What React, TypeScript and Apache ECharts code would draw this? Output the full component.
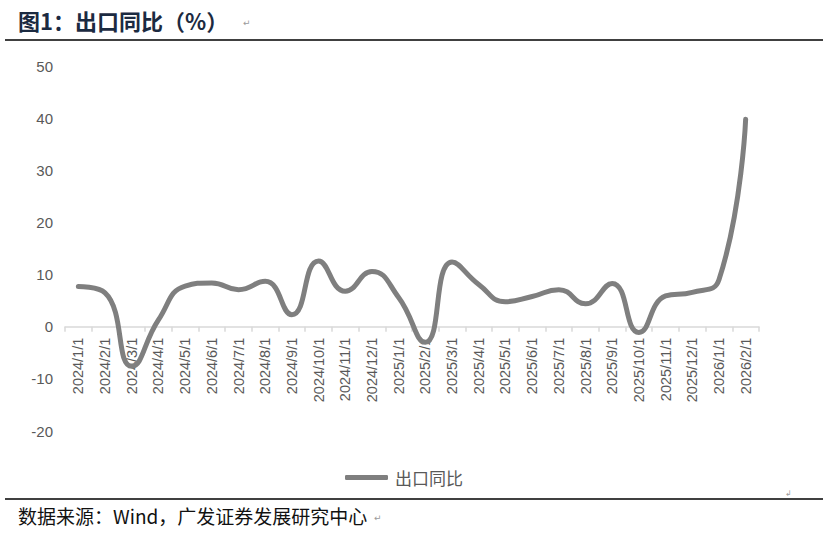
import { useEffect, useRef } from 'react'
import * as echarts from 'echarts'

// 月份（横轴类目）
const months = [
  '2024/1/1', '2024/2/1', '2024/3/1', '2024/4/1', '2024/5/1', '2024/6/1',
  '2024/7/1', '2024/8/1', '2024/9/1', '2024/10/1', '2024/11/1', '2024/12/1',
  '2025/1/1', '2025/2/1', '2025/3/1', '2025/4/1', '2025/5/1', '2025/6/1',
  '2025/7/1', '2025/8/1', '2025/9/1', '2025/10/1', '2025/11/1', '2025/12/1',
  '2026/1/1', '2026/2/1'
]

// 出口同比（%）
const exportYoY = [
  7.7, 6.5, -7.6, 1.3, 7.8, 8.4, 7.1, 8.7, 2.3, 12.6, 6.8, 10.6,
  5.6, -3.0, 12.4, 8.1, 4.8, 5.8, 7.1, 4.4, 8.3, -1.1, 5.9, 6.6,
  9.0, 39.8
]

const seriesName = '出口同比'
const chartTitle = '图1：出口同比（%）'
const sourceText = '数据来源：Wind，广发证券发展研究中心'

const yMin = -20
const yMax = 50
const yStep = 10

const GRID_TOP = 66
const GRID_BOTTOM = 102
const CHART_H = 533

const LINE_COLOR = '#7f7f7f'
const LABEL_COLOR = '#595959'
const AXIS_COLOR = '#d9d9d9'

export default function App() {
  const chartRef = useRef<HTMLDivElement>(null)

  useEffect(() => {
    if (!chartRef.current) return
    const chart = echarts.init(chartRef.current, undefined, { renderer: 'svg' })

    // 横轴放在 0 值处：从绘图区底部往上平移
    const plotH = CHART_H - GRID_TOP - GRID_BOTTOM
    const zeroOffset = -(plotH * (0 - yMin)) / (yMax - yMin)

    chart.setOption({
      animation: false,
      backgroundColor: '#fff',
      grid: { left: 65, right: 64, top: GRID_TOP, bottom: GRID_BOTTOM, containLabel: false },
      legend: {
        left: 340,
        top: 464,
        icon: 'roundRect',
        itemWidth: 43,
        itemHeight: 5,
        itemGap: 0,
        textStyle: {
          color: LABEL_COLOR,
          fontSize: 17,
          fontFamily: '"Noto Sans CJK SC", sans-serif',
          padding: [0, 0, 0, 2]
        },
        data: [seriesName]
      },
      xAxis: {
        type: 'category',
        data: months,
        boundaryGap: true,
        offset: zeroOffset,
        axisLine: { onZero: false, lineStyle: { color: AXIS_COLOR, width: 1.5 } },
        axisTick: { show: true, length: 5, lineStyle: { color: AXIS_COLOR, width: 1.5 } },
        axisLabel: {
          rotate: 90,
          margin: 11,
          interval: 0,
          color: LABEL_COLOR,
          fontSize: 14.5,
          fontFamily: '"Liberation Sans", Arial, sans-serif'
        },
        splitLine: { show: false }
      },
      yAxis: {
        type: 'value',
        min: yMin,
        max: yMax,
        interval: yStep,
        axisLine: { show: false },
        axisTick: { show: false },
        splitLine: { show: false },
        axisLabel: {
          margin: 12,
          color: LABEL_COLOR,
          fontSize: 15,
          fontFamily: '"Liberation Sans", Arial, sans-serif'
        }
      },
      series: [
        {
          name: seriesName,
          type: 'line',
          data: exportYoY,
          smooth: 0.5,
          symbol: 'none',
          lineStyle: { color: LINE_COLOR, width: 5, cap: 'round', join: 'round' },
          itemStyle: { color: LINE_COLOR }
        }
      ],
      graphic: [
        {
          type: 'text',
          left: 18,
          top: 9,
          style: {
            text: chartTitle,
            fontSize: 22,
            fontWeight: 'bold',
            fill: '#1b2a41',
            fontFamily: '"Noto Sans CJK SC", sans-serif'
          }
        },
        {
          type: 'text',
          left: 243,
          top: 18,
          style: { text: '↵', fontSize: 9, fill: '#9a9a9a', fontFamily: 'DejaVu Sans' }
        },
        {
          type: 'line',
          shape: { x1: 5, y1: 40, x2: 823, y2: 40 },
          style: { stroke: '#000', lineWidth: 1.3 }
        },
        {
          type: 'line',
          shape: { x1: 5, y1: 499, x2: 823, y2: 499 },
          style: { stroke: '#000', lineWidth: 1.3 }
        },
        {
          type: 'text',
          left: 785,
          top: 489,
          style: { text: '↲', fontSize: 8, fill: '#9a9a9a', fontFamily: 'DejaVu Sans' }
        },
        {
          type: 'text',
          left: 18,
          top: 506,
          style: {
            text: sourceText,
            fontSize: 19,
            fill: '#111',
            fontFamily: '"Noto Sans CJK SC", sans-serif'
          }
        },
        {
          type: 'text',
          left: 374,
          top: 513,
          style: { text: '↵', fontSize: 9, fill: '#9a9a9a', fontFamily: 'DejaVu Sans' }
        }
      ]
    })

    return () => chart.dispose()
  }, [])

  return (
    <div
      ref={chartRef}
      style={{ position: 'absolute', left: 0, top: 0, width: 823, height: 533 }}
    />
  )
}
